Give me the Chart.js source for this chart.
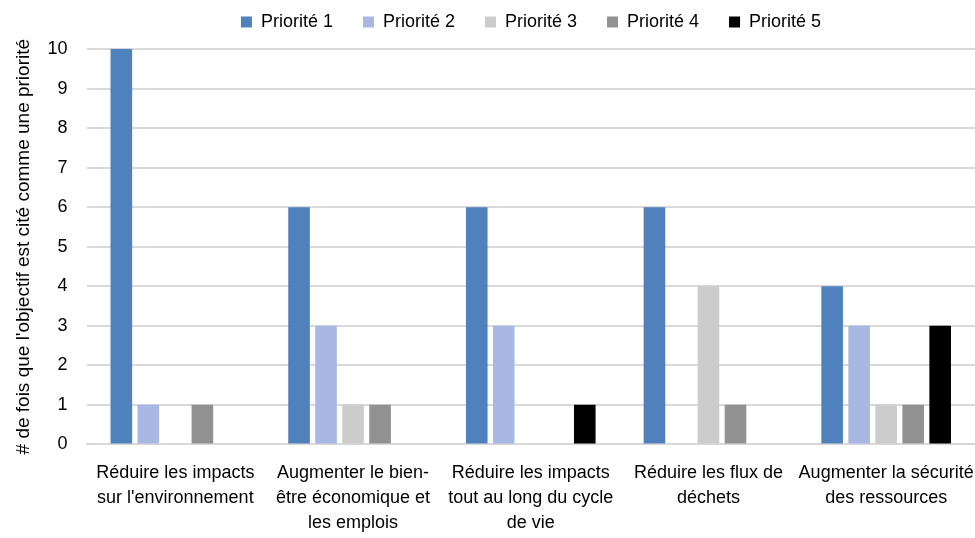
<!DOCTYPE html>
<html>
<head>
<meta charset="utf-8">
<script src="https://cdn.jsdelivr.net/npm/chart.js@4"></script>
<style>
  html, body { margin: 0; padding: 0; background: #fff; }
  #wrap { width: 975px; height: 538px; }
</style>
</head>
<body>
<div id="wrap"><canvas id="barChart"></canvas></div>
<script>
/* Data */
var categories = [
    ['Réduire les impacts', "sur l'environnement"],
    ['Augmenter le bien-', 'être économique et', 'les emplois'],
    ['Réduire les impacts', 'tout au long du cycle', 'de vie'],
    ['Réduire les flux de', 'déchets'],
    ['Augmenter la sécurité', 'des ressources']
];
var seriesNames = ['Priorité 1', 'Priorité 2', 'Priorité 3', 'Priorité 4', 'Priorité 5'];
var priorite1 = [10, 6, 6, 6, 4];
var priorite2 = [1, 3, 3, 0, 3];
var priorite3 = [0, 1, 0, 4, 1];
var priorite4 = [1, 1, 0, 1, 1];
var priorite5 = [0, 0, 1, 0, 3];
var yTicks = [0, 1, 2, 3, 4, 5, 6, 7, 8, 9, 10];
var yTitle = "# de fois que l'objectif est cité comme une priorité";

var colors = ['#4F81BD', '#A9B8E2', '#CCCCCC', '#929292', '#000000'];
var values = [priorite1, priorite2, priorite3, priorite4, priorite5];

var datasets = seriesNames.map(function (name, i) {
    return {
        label: name,
        data: values[i],
        backgroundColor: colors[i],
        borderWidth: 0,
        barPercentage: 0.8,
        categoryPercentage: 0.76
    };
});

// legend: wide item spacing, short box, centred over the plot rather than the canvas
var legendTweak = {
    id: 'legendTweak',
    beforeInit: function (chart) {
        var fit = chart.legend.fit;
        var draw = chart.legend.draw;
        chart.legend.fit = function () {
            fit.call(this);
            this.height += 8;
        };
        chart.legend.draw = function () {
            var ctx = this.ctx;
            ctx.save();
            ctx.translate(34, 0);
            draw.call(this);
            ctx.restore();
        };
    }
};

Chart.defaults.font.family = '"Liberation Sans", Arial, sans-serif';
Chart.defaults.color = '#000';

new Chart('barChart', {
    type: 'bar',
    data: { labels: categories, datasets: datasets },
    plugins: [legendTweak],
    options: {
        responsive: true,
        maintainAspectRatio: false,
        animation: false,
        layout: { padding: { left: 19, right: 0, top: -17, bottom: -6 } },
        plugins: {
            legend: {
                position: 'top',
                labels: {
                    boxWidth: 11,
                    boxHeight: 11,
                    padding: 30,
                    font: { size: 18 }
                }
            },
            tooltip: { enabled: false }
        },
        scales: {
            x: {
                grid: { display: false },
                border: { color: '#D9D9D9', width: 2 },
                ticks: { font: { size: 18, lineHeight: 1.4 }, maxRotation: 0, autoSkip: false, padding: 8 },
                afterFit: function (scale) {
                    // let the last label run to the canvas edge, as in the original
                    scale.paddingLeft = 0;
                    scale.paddingRight = 0;
                }
            },
            y: {
                min: 0,
                max: 10,
                afterBuildTicks: function (axis) {
                    axis.ticks = yTicks.map(function (v) { return { value: v }; });
                },
                grid: { color: '#D9D9D9', lineWidth: 2, drawTicks: false },
                border: { display: false },
                ticks: { font: { size: 18 }, padding: 19 },
                title: { display: true, text: yTitle, font: { size: 19, lineHeight: 0.5 }, padding: 0 }
            }
        }
    }
});
</script>
</body>
</html>
